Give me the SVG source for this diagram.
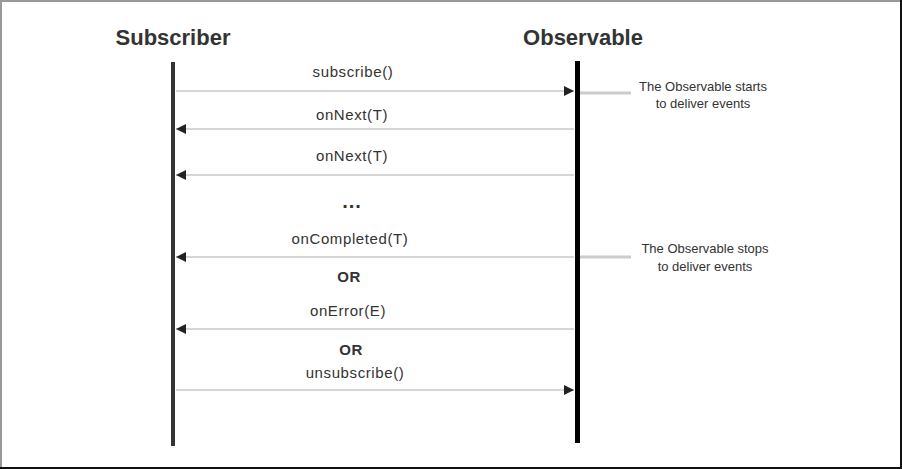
<svg xmlns="http://www.w3.org/2000/svg" width="902" height="469" viewBox="0 0 902 469">
  <style>
    .head { font-family: "Liberation Sans", Arial, sans-serif; font-weight: bold; font-size: 22px; fill: #333; text-anchor: middle; }
    .msg { font-family: "Liberation Sans", Arial, sans-serif; font-size: 15px; letter-spacing: 0.6px; fill: #333; text-anchor: middle; }
    .or { font-family: "Liberation Sans", Arial, sans-serif; font-weight: bold; font-size: 15px; letter-spacing: 0.5px; fill: #333; text-anchor: middle; }
    .dots { font-family: "Liberation Sans", Arial, sans-serif; font-weight: bold; font-size: 20px; letter-spacing: 1px; fill: #333; text-anchor: middle; }
    .note { font-family: "Liberation Sans", Arial, sans-serif; font-size: 13px; fill: #333; text-anchor: middle; }
    .call { stroke: #c8c8c8; stroke-width: 1.5; fill: none; }
    .mark { stroke: #cccccc; stroke-width: 3; }
  </style>
  <defs>
    <marker id="arrow" viewBox="0 0 10 10" refX="10" refY="5" markerWidth="10" markerHeight="10" markerUnits="userSpaceOnUse" orient="auto">
      <path d="M0,0 L10,5 L0,10 Z" fill="#222"/>
    </marker>
  </defs>

  <!-- frame -->
  <rect x="0" y="0" width="902" height="469" fill="#fff"/>
  <path d="M1,468 V1 H901" fill="none" stroke="#999" stroke-width="2"/>
  <path d="M901,0 V468 H0" fill="none" stroke="#111" stroke-width="2"/>

  <!-- participants -->
  <g id="subscriber">
    <text class="head" x="173" y="45">Subscriber</text>
    <rect x="171" y="62" width="4" height="384" fill="#333"/>
  </g>
  <g id="observable">
    <text class="head" x="583" y="45">Observable</text>
    <rect x="575" y="61" width="5" height="382" fill="#000"/>
  </g>

  <!-- messages -->
  <g id="connectors">
    <line class="call" x1="176" y1="91" x2="574" y2="91" marker-end="url(#arrow)"/>
    <line class="call" x1="574" y1="129" x2="176" y2="129" marker-end="url(#arrow)"/>
    <line class="call" x1="574" y1="175" x2="176" y2="175" marker-end="url(#arrow)"/>
    <line class="call" x1="574" y1="257" x2="176" y2="257" marker-end="url(#arrow)"/>
    <line class="call" x1="574" y1="329" x2="176" y2="329" marker-end="url(#arrow)"/>
    <line class="call" x1="176" y1="390" x2="574" y2="390" marker-end="url(#arrow)"/>
    <line class="mark" x1="580" y1="93" x2="631" y2="93"/>
    <line class="mark" x1="580" y1="257" x2="631" y2="257"/>
  </g>

  <g id="labels">
    <text class="msg" x="353" y="77">subscribe()</text>
    <text class="msg" x="352" y="120">onNext(T)</text>
    <text class="msg" x="352" y="161">onNext(T)</text>
    <text class="dots" x="352" y="208">...</text>
    <text class="msg" x="350" y="244">onCompleted(T)</text>
    <text class="or" x="349" y="282">OR</text>
    <text class="msg" x="348" y="316">onError(E)</text>
    <text class="or" x="351" y="355">OR</text>
    <text class="msg" x="355" y="378">unsubscribe()</text>
  </g>

  <g id="note-start">
    <text class="note" x="703" y="91">The Observable starts</text>
    <text class="note" x="703" y="108">to deliver events</text>
  </g>
  <g id="note-stop">
    <text class="note" x="705" y="253">The Observable stops</text>
    <text class="note" x="705" y="271">to deliver events</text>
  </g>
</svg>
